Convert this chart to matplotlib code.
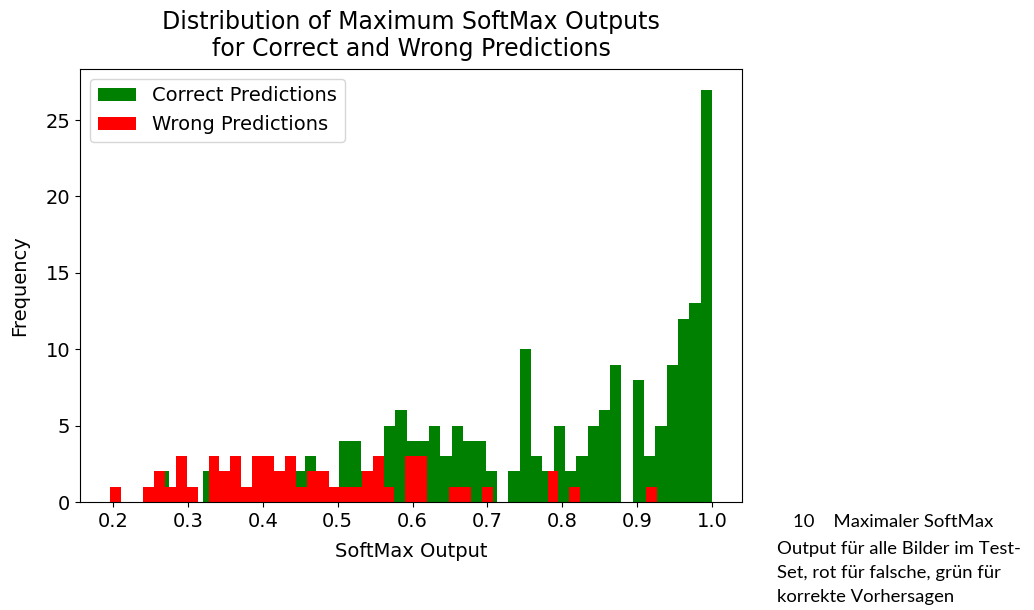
import numpy as np
import matplotlib.pyplot as plt

# range of the max softmax values for each group (50 bins each)
correct_range = (0.2445, 0.9999)
wrong_range = (0.196, 0.9264)

# counts per bin
correct_counts = [1, 2, 0, 0, 0, 2, 1, 1, 1, 1,
                  1, 1, 1, 2, 3, 2, 1, 4, 4, 2,
                  2, 5, 6, 4, 4, 5, 3, 5, 4, 4,
                  2, 0, 2, 10, 3, 2, 5, 2, 3, 5,
                  6, 9, 0, 8, 3, 5, 9, 12, 13, 27]
wrong_counts = [1, 0, 0, 1, 2, 1, 3, 1, 0, 3,
                2, 3, 1, 3, 3, 2, 3, 1, 2, 2,
                1, 1, 1, 2, 3, 1, 0, 3, 3, 0,
                0, 1, 1, 0, 1, 0, 0, 0, 0, 0,
                2, 0, 1, 0, 0, 0, 0, 0, 0, 1]

caption_head = "10    Maximaler SoftMax"
caption_body = ("Output für alle Bilder im Test-\n"
                "Set, rot für falsche, grün für\n"
                "korrekte Vorhersagen")

fig = plt.figure(figsize=(10.34, 6.10), dpi=100)
ax = fig.add_axes([0.0774, 0.177, 0.6402, 0.710])

edges_c = np.linspace(correct_range[0], correct_range[1], len(correct_counts) + 1)
edges_w = np.linspace(wrong_range[0], wrong_range[1], len(wrong_counts) + 1)

ax.hist(edges_c[:-1], bins=edges_c, weights=correct_counts, color="green",
        label="Correct Predictions")
ax.hist(edges_w[:-1], bins=edges_w, weights=wrong_counts, color="red",
        label="Wrong Predictions")

ax.set_xticks([0.2, 0.3, 0.4, 0.5, 0.6, 0.7, 0.8, 0.9, 1.0])
ax.set_yticks([0, 5, 10, 15, 20, 25])
ax.tick_params(labelsize=14)
ax.set_xlabel("SoftMax Output", fontsize=14, labelpad=8)
ax.set_ylabel("Frequency", fontsize=14, labelpad=12)
ax.set_title("Distribution of Maximum SoftMax Outputs\nfor Correct and Wrong Predictions",
             fontsize=17, pad=9)
ax.legend(loc="upper left", fontsize=14)

# caption to the right of the plot
fig.text(793 / 1034, 1 - 522 / 610, caption_head, fontsize=13.3, family="Lato",
         va="center")
fig.text(777 / 1034, 1 - 541 / 610, caption_body, fontsize=13.3, family="Lato",
         va="top", linespacing=1.6)

fig.savefig("out.png")
